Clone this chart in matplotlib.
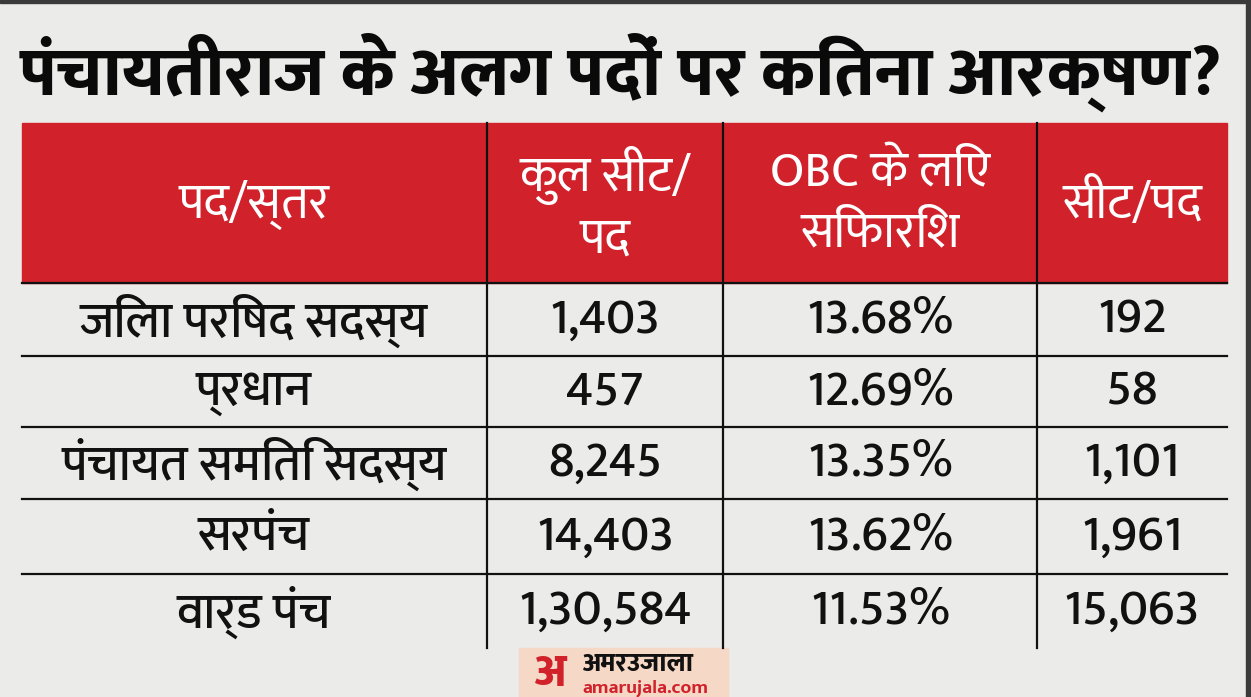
import matplotlib
matplotlib.use('Agg')
import matplotlib.pyplot as plt
from matplotlib.patches import Rectangle

# table contents
title = 'पंचायतीराज के अलग पदों पर कितना आरक्षण?'
headers = ['पद/स्तर', 'कुल सीट/\nपद', 'OBC के लिए\nसिफारिश', 'सीट/पद']
posts = ['जिला परिषद सदस्य', 'प्रधान', 'पंचायत समिति सदस्य', 'सरपंच', 'वार्ड पंच']
total_seats = ['1,403', '457', '8,245', '14,403', '1,30,584']
obc_share = ['13.68%', '12.69%', '13.35%', '13.62%', '11.53%']
obc_seats = ['192', '58', '1,101', '1,961', '15,063']

W, H = 1251, 697
FONT = ['Mukta', 'Noto Sans Devanagari', 'DejaVu Sans']
RED = '#d1222b'
BG = '#ebebe9'

fig = plt.figure(figsize=(W / 100, H / 100), dpi=100)
fig.patch.set_facecolor(BG)
ax = fig.add_axes([0, 0, 1, 1])
ax.set_xlim(0, W)
ax.set_ylim(H, 0)
ax.axis('off')

# dark screenshot edges top and right
ax.add_patch(Rectangle((0, 0), W, 2.5, color='#3a3a3a', zorder=5))
ax.add_patch(Rectangle((W - 5, 0), 5, H, color='#3a3a3a', zorder=5))

ax.text(621, 72, title, ha='center', va='center', fontsize=50,
        fontweight='heavy', family=FONT, color='#0a0a0a')

col_edges = [22, 487, 723, 1037, 1227]
row_edges = [123, 283, 356, 427, 499, 574, 648]

# header band
ax.add_patch(Rectangle((col_edges[0], row_edges[0]), col_edges[-1] - col_edges[0],
                       row_edges[1] - row_edges[0], color=RED, zorder=1))

# grid lines
for y in row_edges[1:-1]:
    ax.plot([col_edges[0], col_edges[-1]], [y, y], color='#111111', lw=1.6, zorder=2)
for x in col_edges[1:-1]:
    ax.plot([x, x], [row_edges[0], row_edges[-1]], color='#111111', lw=1.6, zorder=2)

col_centers = [(a + b) / 2 for a, b in zip(col_edges[:-1], col_edges[1:])]
col_centers[0] = 254
head_mid = (row_edges[0] + row_edges[1]) / 2 + 2
for cx, h in zip(col_centers, headers):
    ax.text(cx, head_mid, h, ha='center', va='center', fontsize=36,
            color='white', family=FONT, linespacing=1.35, zorder=3)

for i in range(len(posts)):
    cy = (row_edges[i + 1] + row_edges[i + 2]) / 2 + 1
    vals = [posts[i], total_seats[i], obc_share[i], obc_seats[i]]
    for cx, v in zip(col_centers, vals):
        ax.text(cx, cy, v, ha='center', va='center', fontsize=36, fontweight='medium',
                color='#111111', family=FONT, zorder=3)

# brand logo at the bottom
ax.add_patch(Rectangle((519, 648), 209, 49, color='#f5d8c6', zorder=1))
ax.text(550, 686, 'अ', ha='center', va='baseline', fontsize=33, fontweight='heavy',
        color=RED, family=FONT, zorder=3)
ax.text(583, 670, 'अमरउजाला', ha='left', va='baseline', fontsize=19, fontweight='heavy',
        color='#111111', family=FONT, zorder=3)
ax.text(582, 692, 'amarujala.com', ha='left', va='baseline', fontsize=14, fontweight='bold',
        color=RED, family=FONT, zorder=3)

fig.savefig('out.png', dpi=100, facecolor=BG)
